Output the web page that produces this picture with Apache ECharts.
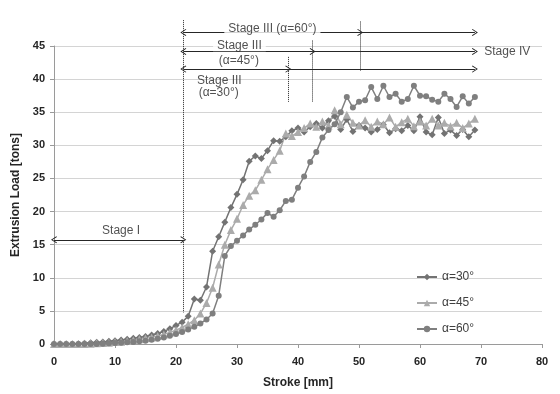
<!DOCTYPE html>
<html>
<head>
<meta charset="utf-8">
<script src="https://cdn.jsdelivr.net/npm/echarts@6/dist/echarts.min.js"></script>
<style>
  html, body { margin: 0; padding: 0; background: #fff; }
  #chart { width: 560px; height: 394px; }
</style>
</head>
<body>
<div id="chart"></div>
<script>
// stroke positions [mm], shared by all three runs
const stroke = [
  0, 1, 2, 3, 4, 5, 6, 7, 8, 9,
  10, 11, 12, 13, 14, 15, 16, 17, 18, 19,
  20, 21, 22, 23, 24, 25, 26, 27, 28, 29,
  30, 31, 32, 33, 34, 35, 36, 37, 38, 39,
  40, 41, 42, 43, 44, 45, 46, 47, 48, 49,
  50, 51, 52, 53, 54, 55, 56, 57, 58, 59,
  60, 61, 62, 63, 64, 65, 66, 67, 68, 69
];

// extrusion load [tons]
const load30 = [
  0, 0, 0, 0, 0.05, 0.1, 0.2, 0.25, 0.3, 0.4,
  0.5, 0.6, 0.7, 0.85, 1.0, 1.15, 1.35, 1.6, 1.9, 2.3,
  2.8, 3.3, 4.2, 6.8, 6.6, 8.6, 14.0, 16.2, 18.4, 20.6,
  22.6, 24.8, 27.6, 28.4, 28.0, 29.2, 30.7, 30.6, 31.3, 32.2,
  32.6, 32.0, 32.8, 33.3, 32.6, 33.7, 34.4, 32.4, 33.9, 32.1,
  33.0, 32.6, 32.0, 32.4, 33.1, 31.9, 32.5, 32.2, 33.0, 32.2,
  34.3, 32.0, 31.6, 34.2, 31.8, 32.3, 31.5, 32.4, 31.3, 32.3
];
const load45 = [
  0, 0, 0, 0, 0, 0, 0.05, 0.1, 0.15, 0.2,
  0.3, 0.35, 0.45, 0.55, 0.7, 0.85, 1.0, 1.2, 1.45, 1.75,
  2.1, 2.5, 3.0, 3.6, 4.6, 6.2, 8.5, 12.0, 15.0, 17.2,
  18.9, 21.0, 22.4, 23.2, 24.8, 26.4, 27.8, 29.2, 31.8, 31.4,
  32.0, 32.6, 33.3, 32.8, 33.6, 33.0, 35.3, 33.2, 34.6, 33.4,
  33.0, 33.8, 32.8, 33.6, 33.2, 34.2, 32.8, 33.5, 34.0, 32.9,
  33.6, 33.0, 34.0, 33.0, 33.4, 32.9, 33.4, 32.6, 33.3, 34.0
];
const load60 = [
  0, 0, 0, 0, 0, 0, 0, 0, 0.05, 0.1,
  0.15, 0.2, 0.25, 0.3, 0.4, 0.5, 0.65, 0.8, 1.0, 1.25,
  1.5, 1.8, 2.2, 2.6, 3.1, 3.7, 4.6, 7.3, 13.3, 14.8,
  15.6, 16.4, 17.3, 18.0, 18.8, 19.8, 19.2, 20.2, 21.6, 21.8,
  23.6, 25.3, 27.5, 29.0, 31.2, 32.3, 33.2, 35.0, 37.3, 35.7,
  36.6, 36.8, 38.8, 37.0, 39.0, 37.3, 37.8, 36.6, 37.0, 39.0,
  37.5, 37.4, 36.9, 36.6, 37.8, 37.0, 35.8, 37.4, 36.3, 37.3
];

const seriesNames = ['\u03b1=30\u00b0', '\u03b1=45\u00b0', '\u03b1=60\u00b0'];

// stage boundaries [mm] and annotation heights [tons]
const stageII = 21.2;
const stageEnd = 69;
const stageIIIEnd = [38.4, 42.4, 50.2];   // alpha = 30, 45, 60
const arrowRow = [41.6, 44.2, 47.0];      // alpha = 30, 45, 60

const FONT = "'Liberation Sans', Arial, sans-serif";
const INK = '#262626';

const pairs = (ys) => stroke.map((x, i) => [x, ys[i]]);

const chevron = 'path://M5,0 L10,9 L9,10 L5,2.6 L1,10 L0,9 Z';

function seg(x1, y1, x2, y2, s1, s2, dotted) {
  const st = { color: INK, width: 1, type: dotted ? 'dotted' : 'solid' };
  return [
    { coord: [x1, y1], symbol: s1, lineStyle: st },
    { coord: [x2, y2], symbol: s2 }
  ];
}

const markLines = [
  // Stage I
  seg(0, 16.5, stageII, 16.5, chevron, chevron),
  // Stage II dotted boundary
  seg(stageII, 48.8, stageII, 5.8, 'none', 'none', true),
  // alpha=30 row
  seg(stageII, arrowRow[0], stageIIIEnd[0], arrowRow[0], chevron, chevron),
  seg(stageIIIEnd[0], arrowRow[0], stageEnd, arrowRow[0], 'none', chevron),
  seg(stageIIIEnd[0], 43.4, stageIIIEnd[0], 36.8, 'none', 'none', true),
  // alpha=45 row
  seg(stageII, arrowRow[1], stageIIIEnd[1], arrowRow[1], chevron, chevron),
  seg(stageIIIEnd[1], arrowRow[1], stageEnd, arrowRow[1], 'none', chevron),
  seg(stageIIIEnd[1], 45.8, stageIIIEnd[1], 36.8, 'none', 'none', true),
  // alpha=60 row
  seg(stageII, arrowRow[2], stageIIIEnd[2], arrowRow[2], chevron, chevron),
  seg(stageIIIEnd[2], arrowRow[2], stageEnd, arrowRow[2], 'none', chevron),
  seg(stageIIIEnd[2], 48.6, stageIIIEnd[2], 41.3, 'none', 'none', true)
];

// annotation texts: [x mm, y tons, text, white box]
const notes = [
  [11.0, 17.8, 'Stage I', false],
  [21.2, 50.2, 'Stage II', false],
  [35.8, 47.6, 'Stage III (\u03b1=60\u00b0)', true],
  [30.4, 45.1, 'Stage III', true],
  [30.3, 42.8, '(\u03b1=45\u00b0)', false],
  [27.1, 39.9, 'Stage III', false],
  [27.0, 38.1, '(\u03b1=30\u00b0)', false],
  [74.3, 44.2, 'Stage IV', false]
];

const chart = echarts.init(document.getElementById('chart'));

const mkSeries = (name, ys, symbol, size, color) => ({
  name: name,
  type: 'line',
  data: pairs(ys),
  symbol: symbol,
  symbolSize: size,
  showSymbol: true,
  lineStyle: { color: color, width: 1.5 },
  itemStyle: { color: color },
  emphasis: { disabled: true },
  z: 3
});

chart.setOption({
  animation: false,
  textStyle: { fontFamily: FONT },
  grid: [
    { left: 54, right: 18, top: 46, bottom: 42 },
    { left: 54, right: 18, top: 12, bottom: 42 }
  ],
  xAxis: [
    {
      type: 'value', gridIndex: 0, min: 0, max: 80, interval: 10,
      name: 'Stroke [mm]', nameLocation: 'middle', nameGap: 33,
      nameTextStyle: { fontWeight: 'bold', fontSize: 12, color: INK, fontFamily: FONT },
      axisLine: { lineStyle: { color: '#9a9a9a' } },
      axisTick: { show: true, length: 4, lineStyle: { color: '#9a9a9a' } },
      axisLabel: { fontWeight: 'bold', fontSize: 11, color: INK, margin: 12 },
      splitLine: { show: false }
    },
    { type: 'value', gridIndex: 1, min: 0, max: 80, show: false }
  ],
  yAxis: [
    {
      type: 'value', gridIndex: 0, min: 0, max: 45, interval: 5,
      name: 'Extrusion Load [tons]', nameLocation: 'middle', nameGap: 31,
      nameTextStyle: { fontWeight: 'bold', fontSize: 12, color: INK, fontFamily: FONT },
      axisLine: { show: true, lineStyle: { color: '#9a9a9a' } },
      axisTick: { show: true, length: 4, lineStyle: { color: '#9a9a9a' } },
      axisLabel: { fontWeight: 'bold', fontSize: 11, color: INK, margin: 9 },
      splitLine: { show: true, lineStyle: { color: '#d4d4d4', width: 1 } }
    },
    { type: 'value', gridIndex: 1, min: 0, max: 50, show: false }
  ],
  legend: {
    data: seriesNames,
    orient: 'vertical',
    left: 411,
    top: 266,
    itemWidth: 20,
    itemHeight: 8,
    itemGap: 14,
    textStyle: { fontSize: 12, color: '#404040', fontFamily: FONT }
  },
  series: [
    mkSeries(seriesNames[0], load30, 'diamond', 7, '#737373'),
    mkSeries(seriesNames[1], load45, 'triangle', 8, '#ababab'),
    mkSeries(seriesNames[2], load60, 'circle', 6, '#7f7f7f'),
    {
      name: 'stages',
      type: 'scatter',
      xAxisIndex: 1,
      yAxisIndex: 1,
      data: [],
      silent: true,
      z: 4,
      markLine: {
        silent: true,
        animation: false,
        symbolSize: [7, 6],
        label: { show: false },
        emphasis: { disabled: true },
        data: markLines
      }
    },
    {
      name: 'notes',
      type: 'scatter',
      xAxisIndex: 1,
      yAxisIndex: 1,
      silent: true,
      z: 5,
      symbolSize: 1,
      itemStyle: { color: 'rgba(0,0,0,0)' },
      data: notes.map((n) => ({
        value: [n[0], n[1]],
        label: {
          show: true,
          position: 'inside',
          formatter: n[2],
          fontSize: 12,
          color: INK,
          fontFamily: FONT,
          backgroundColor: n[3] ? '#fff' : 'transparent',
          padding: n[3] ? [0, 4] : 0
        }
      }))
    }
  ]
});
</script>
</body>
</html>
